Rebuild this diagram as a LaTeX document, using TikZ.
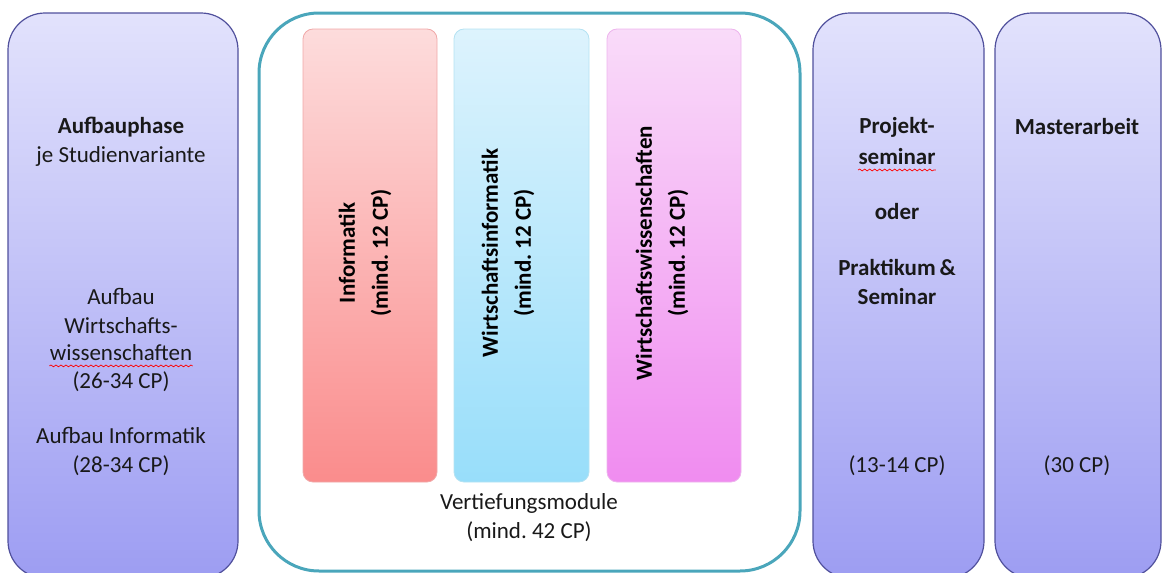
\documentclass[tikz,border=0pt]{standalone}
\usepackage{fontspec}
\setmainfont{Carlito}
\usepackage{tikz}
\usetikzlibrary{decorations.pathmorphing}
\frenchspacing

\definecolor{phasetop}{HTML}{E2E2FC}
\definecolor{phasebot}{HTML}{9D9DF2}
\definecolor{phaseline}{HTML}{50509C}
\definecolor{vtline}{HTML}{4AA6BB}
\definecolor{inftop}{HTML}{FDDCDC}
\definecolor{infbot}{HTML}{FA8C8C}
\definecolor{infline}{HTML}{F0A8A8}
\definecolor{wintop}{HTML}{DDF3FD}
\definecolor{winbot}{HTML}{98DEFA}
\definecolor{winline}{HTML}{B4E2F2}
\definecolor{wiwtop}{HTML}{F9DBF9}
\definecolor{wiwbot}{HTML}{F08CF0}
\definecolor{wiwline}{HTML}{EDB4ED}

\tikzset{
  phase/.style={draw=phaseline, line width=0.6pt, rounded corners=18.5pt,
    top color=phasetop, bottom color=phasebot},
  modul/.style={rounded corners=5pt, line width=0.4pt},
  txt/.style={align=center, inner sep=0pt, text=black!90,
    font=\fontsize{11.5}{14.5}\selectfont},
  btxt/.style={txt, font=\bfseries\fontsize{11.5}{14.5}\selectfont},
  vtxt/.style={align=center, inner sep=0pt, rotate=90,
    font=\bfseries\fontsize{11.5}{16.5}\selectfont},
  spell/.style={red, line width=0.35pt, decorate,
    decoration={snake, amplitude=0.45pt, segment length=2.5pt}}
}

\begin{document}
\begin{tikzpicture}[x=0.5pt, y=-0.5pt]
\useasboundingbox (0,0) rectangle (1163,573);

% Phases
\draw[phase] (8,13) rectangle (238,578);
\draw[phase] (813,13) rectangle (984,578);
\draw[phase] (995,13) rectangle (1161,578);

% Vertiefung
\draw[vtline, line width=1.5pt, rounded corners=30pt] (259,13) rectangle (800,571);
\draw[modul, draw=infline, top color=inftop, bottom color=infbot] (303,29) rectangle (437,482);
\draw[modul, draw=winline, top color=wintop, bottom color=winbot] (454,29) rectangle (589,482);
\draw[modul, draw=wiwline, top color=wiwtop, bottom color=wiwbot] (607,29) rectangle (741,482);

% Labels Aufbauphase
\node[txt] (aufbau) at (121,141.5) {\textbf{Aufbauphase}\\je Studienvariante};
\node[txt] (aufwi) at (121,310.5) {Aufbau\\Wirtschafts-};
\node[txt] (wiwi) at (121,353) {wissenschaften};
\node[txt] (cpwi) at (121,382) {(26-34 CP)};
\node[txt] (aufinf) at (121,451.5) {Aufbau Informatik\\(28-34 CP)};
\draw[spell] ([yshift=-2.5pt]wiwi.base west) -- ([yshift=-2.5pt]wiwi.base east);

% Labels Vertiefung
\node[vtxt] (inf) at (365,253) {Informatik\\(mind. 12 CP)};
\node[vtxt] (win) at (508,253) {Wirtschaftsinformatik\\(mind. 12 CP)};
\node[vtxt] (wiw) at (662,253) {Wirtschaftswissenschaften\\(mind. 12 CP)};
\node[txt] (vert) at (529,517.5) {Vertiefungsmodule\\(mind. 42 CP)};

% Labels Projekt, Master
\node[btxt] (proj) at (897,127) {Projekt-};
\node[btxt] (sem) at (897,157) {seminar};
\draw[spell] ([yshift=-2.5pt]sem.base west) -- ([yshift=-2.5pt]sem.base east);
\node[btxt] (oder) at (897,212) {oder};
\node[btxt] (prak) at (897,282) {Praktikum\,\&\\Seminar};
\node[txt] (cpproj) at (897,466) {(13-14 CP)};
\node[btxt] (master) at (1077,127) {Masterarbeit};
\node[txt] (cpmaster) at (1077,466) {(30 CP)};

\end{tikzpicture}
\end{document}
